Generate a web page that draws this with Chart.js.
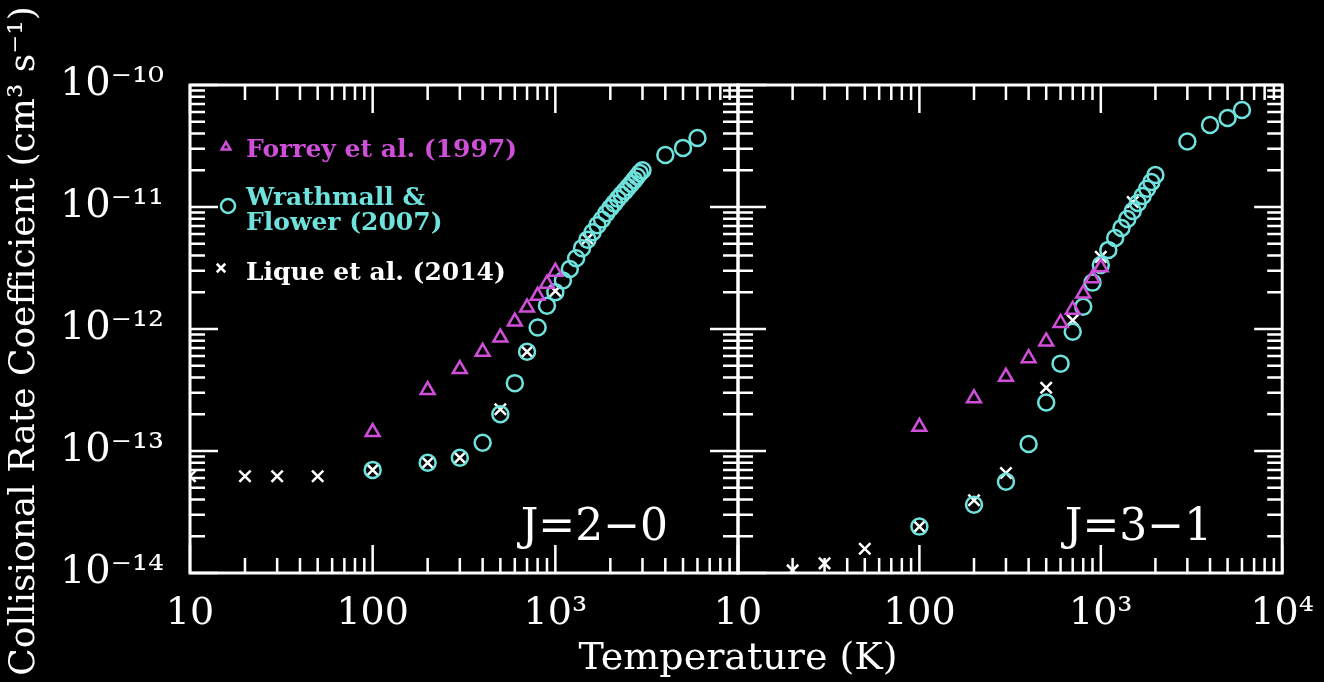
<!DOCTYPE html>
<html>
<head>
<meta charset="utf-8">
<script src="https://cdn.jsdelivr.net/npm/chart.js@4/dist/chart.umd.min.js"></script>
<style>
  html, body { margin: 0; padding: 0; background: #000; }
  #wrap { position: relative; width: 1324px; height: 682px; background: #000; overflow: hidden; }
  #wrap canvas { position: absolute; left: 0; top: 0; }
  #xtitle { position: absolute; left: 488px; top: 634px; width: 500px; text-align: center;
            font: 38px "DejaVu Serif", serif; color: #fff; line-height: 44px; }
  #ytitle { position: absolute; left: -328px; top: 321px; width: 700px; text-align: center;
            font: 36px "DejaVu Serif", serif; color: #fff; line-height: 40px;
            transform: rotate(-90deg); transform-origin: 50% 50%; white-space: nowrap; }
</style>
</head>
<body>
<div id="wrap">
  <canvas id="left" width="1324" height="682"></canvas>
  <canvas id="right" width="1324" height="682"></canvas>
  <div id="xtitle">Temperature (K)</div>
  <div id="ytitle">Collisional Rate Coefficient (cm³ s⁻¹)</div>
</div>
<script>
// axes
const xTickValues = [10, 100, 1000, 10000];
const xTickLabels = ['10', '100', '10³', '10⁴'];
const yTickValues = [1e-14, 1e-13, 1e-12, 1e-11, 1e-10];
const yTickLabels = ['10⁻¹⁴', '10⁻¹³', '10⁻¹²', '10⁻¹¹', '10⁻¹⁰'];

const seriesNames = ['Forrey et al. (1997)', 'Wrathmall & Flower (2007)', 'Lique et al. (2014)'];
const legendLines = [['Forrey et al. (1997)'], ['Wrathmall &', 'Flower (2007)'], ['Lique et al. (2014)']];
const panelNames = ['J=2−0', 'J=3−1'];

// J=2-0
const forreyT = [100, 200, 300, 400, 500, 600, 700, 800, 900, 1000];
const forrey20 = [1.43e-13, 3.16e-13, 4.7e-13, 6.5e-13, 8.5e-13, 1.15e-12, 1.5e-12, 1.87e-12, 2.35e-12, 2.95e-12];
const wrathT20 = [100, 200, 300, 400, 500, 600, 700, 800, 900, 1000, 1100, 1200, 1300, 1400, 1500, 1600, 1700,
  1800, 1900, 2000, 2100, 2200, 2300, 2400, 2500, 2600, 2700, 2800, 2900, 3000, 4000, 5000, 6000];
const wrath20 = [7.0e-14, 8.0e-14, 8.8e-14, 1.17e-13, 2.0e-13, 3.6e-13, 6.5e-13, 1.03e-12, 1.55e-12, 2.0e-12,
  2.5e-12, 3.1e-12, 3.8e-12, 4.6e-12, 5.4e-12, 6.2e-12, 7.1e-12, 7.9e-12, 8.9e-12, 9.8e-12, 1.07e-11, 1.17e-11,
  1.26e-11, 1.35e-11, 1.45e-11, 1.55e-11, 1.66e-11, 1.78e-11, 1.9e-11, 2.0e-11, 2.67e-11, 3.05e-11, 3.68e-11];
const liqueT20 = [10, 20, 30, 50, 100, 200, 300, 500, 700, 1000, 1500];
const lique20 = [6.2e-14, 6.2e-14, 6.2e-14, 6.2e-14, 7.0e-14, 8.0e-14, 8.8e-14, 2.2e-13, 6.5e-13, 2.05e-12, 5.5e-12];

// J=3-1
const forrey31 = [1.58e-13, 2.7e-13, 4.06e-13, 5.76e-13, 7.9e-13, 1.12e-12, 1.44e-12, 1.95e-12, 2.6e-12, 3.2e-12];
const wrathT31 = [100, 200, 300, 400, 500, 600, 700, 800, 900, 1000, 1100, 1200, 1300, 1400, 1500, 1600, 1700,
  1800, 1900, 2000, 3000, 4000, 5000, 6000];
const wrath31 = [2.4e-14, 3.63e-14, 5.6e-14, 1.14e-13, 2.5e-13, 5.2e-13, 9.5e-13, 1.52e-12, 2.4e-12, 3.35e-12,
  4.45e-12, 5.57e-12, 6.73e-12, 7.97e-12, 9.27e-12, 1.08e-11, 1.23e-11, 1.41e-11, 1.6e-11, 1.83e-11,
  3.44e-11, 4.7e-11, 5.37e-11, 6.24e-11];
const liqueT31 = [20, 30, 50, 100, 200, 300, 500, 700, 1000, 1500];
const lique31 = [1.05e-14, 1.2e-14, 1.58e-14, 2.4e-14, 3.95e-14, 6.6e-14, 3.3e-13, 1.18e-12, 3.9e-12, 1.1e-11];

const colors = ['#cf4fd8', '#6fe2dd', '#ffffff'];
const styles = [
  { pointStyle: 'triangle', radius: 8 },
  { pointStyle: 'circle', radius: 8 },
  { pointStyle: 'crossRot', radius: 8 }
];

function pts(xs, ys) { return xs.map((x, i) => ({ x, y: ys[i] })); }

function minorOf(vals) {
  const out = [];
  for (let i = 0; i < vals.length - 1; i++)
    for (let m = 2; m <= 9; m++) out.push(vals[i] * m);
  return out;
}

// white frame + inward ticks on all four sides
const frameTicks = {
  id: 'frameTicks',
  beforeDatasetsDraw(chart) {
    const { ctx, chartArea: a } = chart;
    const xs = chart.scales.x, ys = chart.scales.y;
    ctx.save();
    ctx.strokeStyle = '#fff';
    ctx.lineWidth = 2.5;
    ctx.beginPath();
    const xMark = (v, len) => {
      const p = xs.getPixelForValue(v);
      ctx.moveTo(p, a.bottom); ctx.lineTo(p, a.bottom - len);
      ctx.moveTo(p, a.top); ctx.lineTo(p, a.top + len);
    };
    const yMark = (v, len) => {
      const p = ys.getPixelForValue(v);
      ctx.moveTo(a.left, p); ctx.lineTo(a.left + len, p);
      ctx.moveTo(a.right, p); ctx.lineTo(a.right - len, p);
    };
    xTickValues.forEach(v => xMark(v, 28));
    minorOf(xTickValues).forEach(v => xMark(v, 15));
    yTickValues.forEach(v => yMark(v, 28));
    minorOf(yTickValues).forEach(v => yMark(v, 15));
    ctx.stroke();
    ctx.lineWidth = 3;
    ctx.strokeRect(a.left, a.top, a.width, a.height);
    ctx.restore();
  }
};

const panelText = {
  id: 'panelText',
  afterDatasetsDraw(chart, args, opts) {
    const { ctx, chartArea: a } = chart;
    ctx.save();
    ctx.fillStyle = '#fff';
    ctx.font = '44px "DejaVu Serif", serif';
    ctx.textAlign = 'right';
    ctx.textBaseline = 'alphabetic';
    ctx.fillText(opts.text, a.right - 70, a.bottom - 33);
    ctx.restore();
  }
};

const inLegend = {
  id: 'inLegend',
  afterDatasetsDraw(chart, args, opts) {
    if (!opts.show) return;
    const { ctx, chartArea: a } = chart;
    const rows = [
      { my: 62, ty: [65], mx: 36, r: 5 },
      { my: 121, ty: [113, 138], mx: 38, r: 7 },
      { my: 183, ty: [188], mx: 31, r: 6 }
    ];
    ctx.save();
    rows.forEach((row, i) => {
      ctx.strokeStyle = colors[i];
      ctx.fillStyle = 'rgba(0,0,0,0)';
      ctx.lineWidth = 2.5;
      Chart.helpers.drawPoint(ctx, { pointStyle: styles[i].pointStyle, radius: row.r, borderWidth: 2.5, rotation: 0 },
        a.left + row.mx, a.top + row.my);
      ctx.fillStyle = colors[i];
      ctx.font = 'bold 25px "DejaVu Serif", serif';
      ctx.textAlign = 'left';
      ctx.textBaseline = 'middle';
      legendLines[i].forEach((line, k) => ctx.fillText(line, a.left + 56, a.top + row.ty[k]));
    });
    ctx.restore();
  }
};

function makePanel(id, idx, sets, isLeft) {
  const datasets = sets.map((s, i) => ({
    label: seriesNames[i],
    data: pts(s[0], s[1]),
    showLine: false,
    pointStyle: styles[i].pointStyle,
    pointRadius: styles[i].radius,
    pointBorderWidth: 2.5,
    pointBorderColor: colors[i],
    pointBackgroundColor: 'rgba(0,0,0,0)',
    clip: 0
  }));
  return new Chart(document.getElementById(id), {
    type: 'scatter',
    data: { datasets },
    plugins: [frameTicks, panelText, inLegend],
    options: {
      responsive: false,
      animation: false,
      layout: { padding: isLeft ? { top: 85, right: 586 } : { top: 85, left: 738, right: 39 } },
      scales: {
        x: {
          type: 'logarithmic', min: 10, max: 10000,
          grid: { display: false }, border: { display: false },
          afterBuildTicks: s => { s.ticks = xTickValues.map(v => ({ value: v })); },
          afterFit: s => { s.height = 109; },
          ticks: {
            color: '#fff', padding: 10, autoSkip: false, maxRotation: 0,
            font: { family: '"DejaVu Serif", serif', size: 38 },
            callback: (v, i) => (isLeft && i === xTickValues.length - 1) ? '' : xTickLabels[i]
          }
        },
        y: {
          type: 'logarithmic', min: 1e-14, max: 1e-10,
          display: isLeft,
          grid: { display: false }, border: { display: false },
          afterBuildTicks: s => { s.ticks = yTickValues.map(v => ({ value: v })); },
          afterFit: s => { if (isLeft) s.width = 190; },
          ticks: {
            color: '#fff', padding: 18, autoSkip: false,
            font: { family: '"DejaVu Serif", serif', size: 40 },
            callback: (v, i) => yTickLabels[i]
          }
        }
      },
      plugins: {
        legend: { display: false },
        tooltip: { enabled: false },
        panelText: { text: panelNames[idx] },
        inLegend: { show: isLeft }
      }
    }
  });
}

makePanel('left', 0, [[forreyT, forrey20], [wrathT20, wrath20], [liqueT20, lique20]], true);
makePanel('right', 1, [[forreyT, forrey31], [wrathT31, wrath31], [liqueT31, lique31]], false);
</script>
</body>
</html>
